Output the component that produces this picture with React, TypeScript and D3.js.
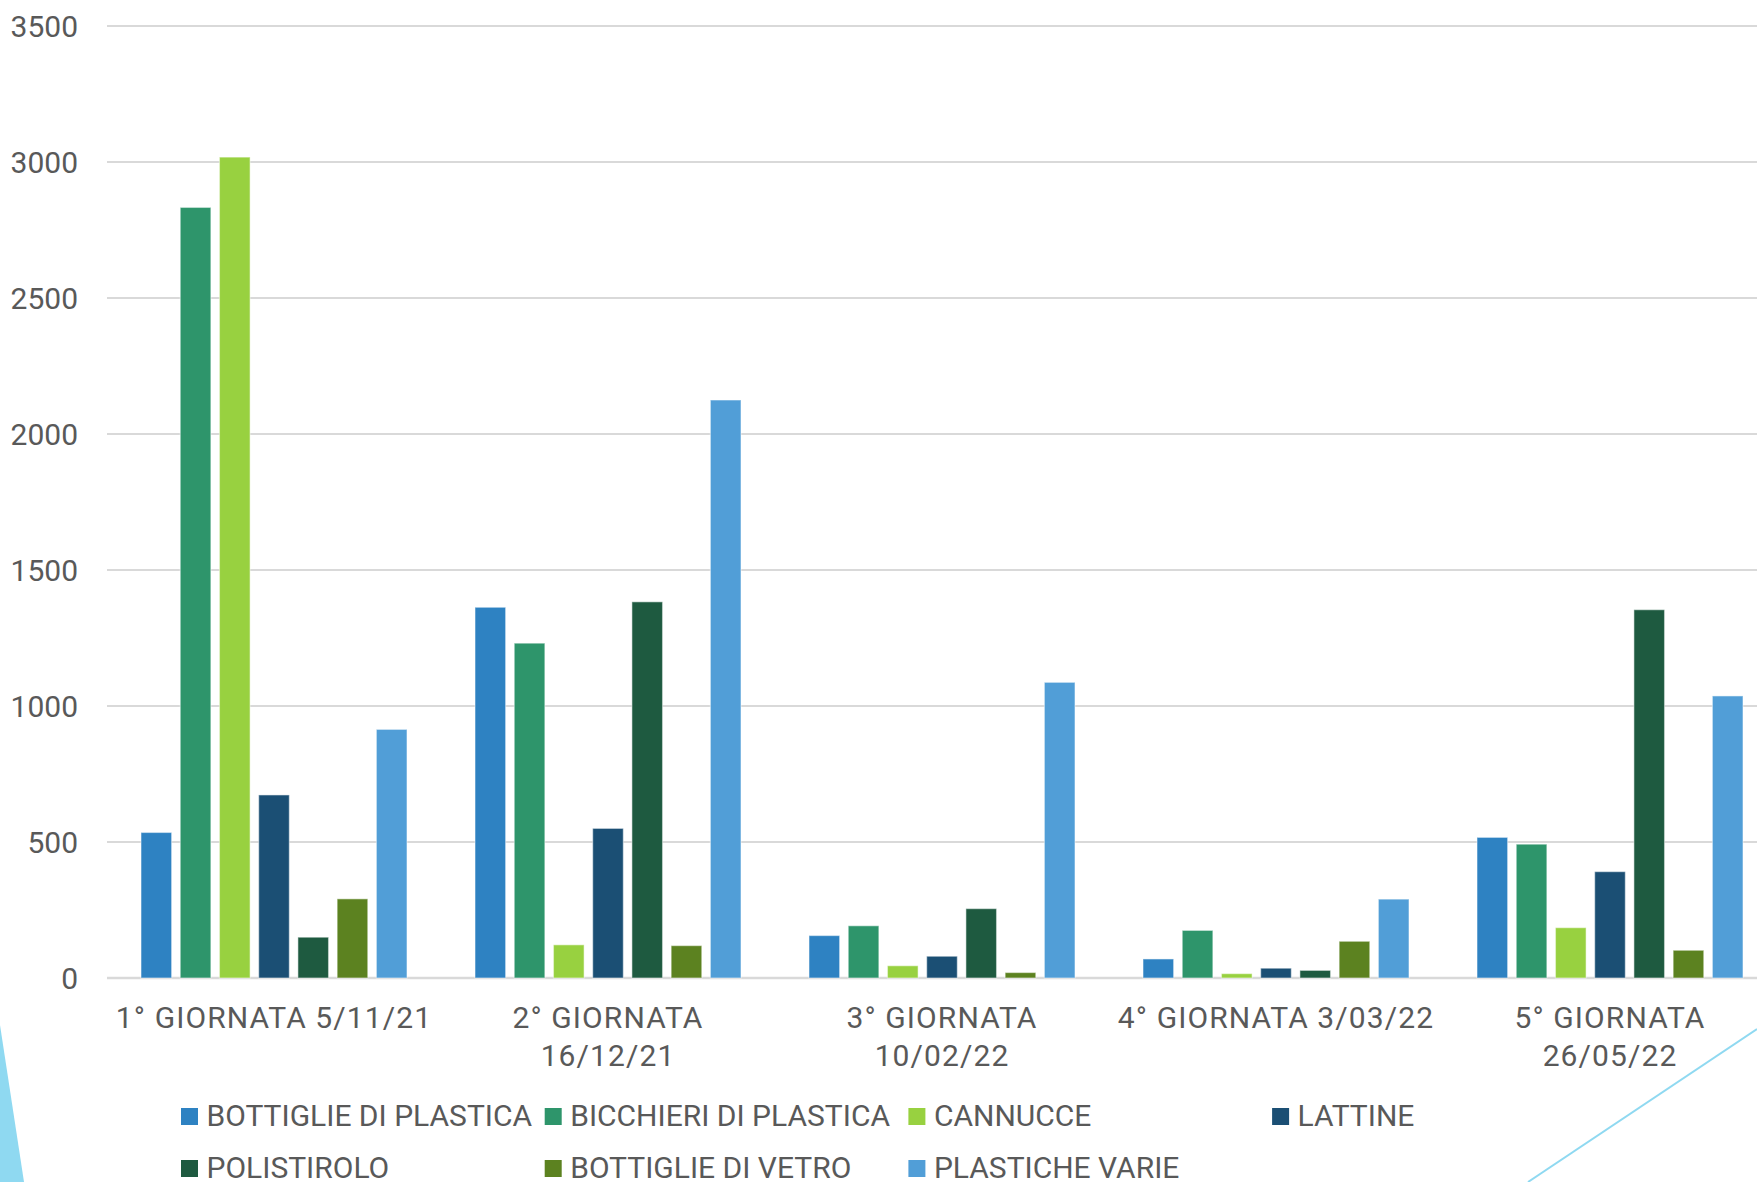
import React from "react";
import * as d3 from "d3";

const categories: string[][] = [
  ["1° GIORNATA 5/11/21"],
  ["2° GIORNATA", "16/12/21"],
  ["3° GIORNATA", "10/02/22"],
  ["4° GIORNATA 3/03/22"],
  ["5° GIORNATA", "26/05/22"],
];

const seriesNames = [
  "BOTTIGLIE DI PLASTICA",
  "BICCHIERI DI PLASTICA",
  "CANNUCCE",
  "LATTINE",
  "POLISTIROLO",
  "BOTTIGLIE DI VETRO",
  "PLASTICHE VARIE",
];

const seriesColors = [
  "#2E82C2",
  "#2E956B",
  "#98D140",
  "#1B4F74",
  "#1E5A40",
  "#5C8220",
  "#519ED7",
];

const bottiglieDiPlastica = [535, 1363, 156, 70, 517];
const bicchieriDiPlastica = [2833, 1231, 192, 175, 492];
const cannucce = [3018, 122, 45, 16, 185];
const lattine = [673, 550, 80, 36, 391];
const polistirolo = [150, 1383, 255, 28, 1354];
const bottiglieDiVetro = [291, 119, 20, 135, 102];
const plasticheVarie = [914, 2125, 1087, 290, 1037];

const seriesValues = [
  bottiglieDiPlastica,
  bicchieriDiPlastica,
  cannucce,
  lattine,
  polistirolo,
  bottiglieDiVetro,
  plasticheVarie,
];

const yTicks = [0, 500, 1000, 1500, 2000, 2500, 3000, 3500];

const W = 1757;
const H = 1182;
const plotLeft = 107;
const catStep = 334;
const yBottom = 978;
const yTop = 26;
const textColor = "#595959";
const font = "Roboto, 'Open Sans', sans-serif";
const fontSize = 30;

export default function App() {
  const catKeys = categories.map((c) => c.join(" "));
  const x0 = d3
    .scaleBand<string>()
    .domain(catKeys)
    .range([plotLeft, plotLeft + catStep * categories.length])
    .paddingInner(0)
    .paddingOuter(0);
  const bw = x0.bandwidth();
  const outerGap = bw * (34 / 334);
  const x1 = d3
    .scaleBand<string>()
    .domain(seriesNames)
    .range([outerGap, bw - outerGap])
    .paddingInner(0.219)
    .paddingOuter(0);
  const y = d3.scaleLinear().domain([0, 3500]).range([yBottom, yTop]);

  const legendX = (i: number) => 181 + (i % 4) * 363.7;
  const legendY = (i: number) => 1108 + Math.floor(i / 4) * 52;

  return (
    <svg
      width={W}
      height={H}
      style={{ position: "absolute", left: 0, top: 0, background: "#fff" }}
      fontFamily={font}
    >
      <rect x={0} y={0} width={W} height={H} fill="#fff" />
      {/* gridlines */}
      {yTicks.map((t) => (
        <line
          key={"g" + t}
          x1={plotLeft}
          x2={W}
          y1={y(t)}
          y2={y(t)}
          stroke="#D9D9D9"
          strokeWidth={t === 0 ? 2.5 : 2}
        />
      ))}
      {/* y tick labels */}
      {yTicks.map((t) => (
        <text
          key={"t" + t}
          x={78}
          y={y(t)}
          dy="0.36em"
          textAnchor="end"
          fontSize={fontSize}
          fill={textColor}
        >
          {t}
        </text>
      ))}
      {/* bars */}
      {categories.map((c, ci) => (
        <g key={"c" + ci} transform={`translate(${x0(catKeys[ci])},0)`}>
          {seriesNames.map((s, si) => {
            const v = seriesValues[si][ci];
            return (
              <rect
                key={s}
                x={x1(s)}
                y={y(v)}
                width={x1.bandwidth()}
                height={y(0) - y(v)}
                fill={seriesColors[si]}
                stroke="#ffffff"
                strokeOpacity={0.45}
                strokeWidth={1.2}
              />
            );
          })}
        </g>
      ))}
      {/* x labels */}
      {categories.map((lines, ci) => (
        <text
          key={"x" + ci}
          x={(x0(catKeys[ci]) as number) + bw / 2}
          y={1028}
          textAnchor="middle"
          fontSize={fontSize}
          fill={textColor}
          letterSpacing={1.1}
        >
          {lines.map((l, li) => (
            <tspan key={li} x={(x0(catKeys[ci]) as number) + bw / 2} dy={li === 0 ? 0 : 38}>
              {l}
            </tspan>
          ))}
        </text>
      ))}
      {/* legend */}
      {seriesNames.map((s, i) => (
        <g key={"l" + i}>
          <rect x={legendX(i)} y={legendY(i)} width={17} height={17} fill={seriesColors[i]} />
          <text x={legendX(i) + 25.5} y={legendY(i) + 18} fontSize={fontSize} fill={textColor}>
            {s}
          </text>
        </g>
      ))}
      {/* slide decorations */}
      <polygon points={`0,1025 24,${H} 0,${H}`} fill="#8FD9F1" />
      <line x1={1528} y1={H} x2={W} y2={1029} stroke="#8FD9F1" strokeWidth={2} />
    </svg>
  );
}
